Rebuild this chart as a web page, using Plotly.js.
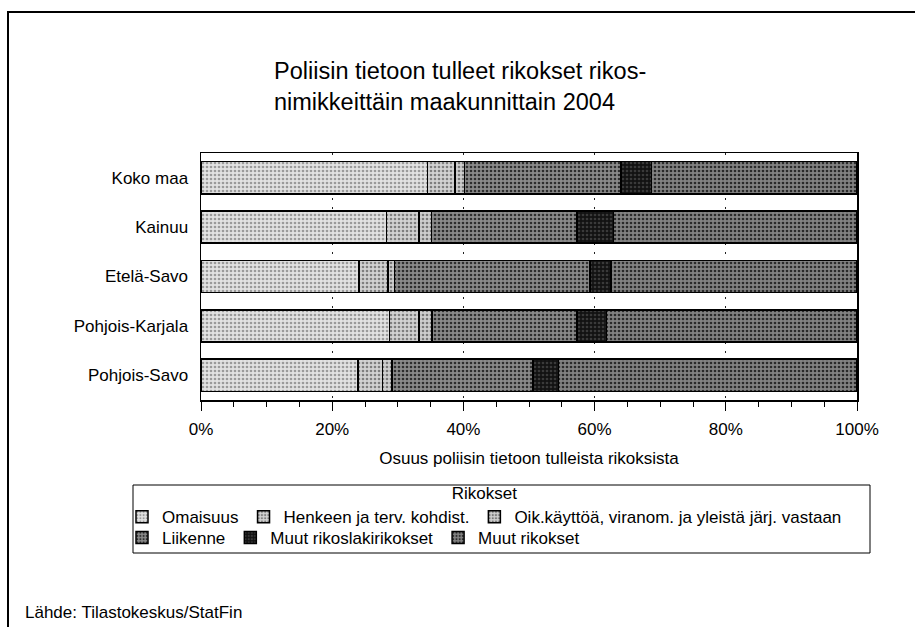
<!DOCTYPE html>
<html><head><meta charset="utf-8">
<script src="https://cdn.plot.ly/plotly-3.0.1.min.js"></script>
<style>html,body{margin:0;padding:0;background:#fff}#chart{width:915px;height:627px}</style>
</head><body><div id="chart"></div>
<script>
// ---- data ----
const regions = ['Koko maa', 'Kainuu', 'Etelä-Savo', 'Pohjois-Karjala', 'Pohjois-Savo'];
const seriesNames = ['Omaisuus', 'Henkeen ja terv. kohdist.', 'Oik.käyttöä, viranom. ja yleistä järj. vastaan',
                     'Liikenne', 'Muut rikoslakirikokset', 'Muut rikokset'];
const omaisuus      = [34.5, 28.3, 24.1, 28.7, 23.9];
const henkeen       = [4.2, 4.9, 4.4, 4.5, 3.8];
const oik           = [1.5, 1.9, 1.0, 2.0, 1.4];
const liikenne      = [23.8, 22.2, 29.8, 22.1, 21.5];
const muutRikoslaki = [4.7, 5.6, 3.2, 4.5, 3.9];
const muutRikokset  = [31.3, 37.1, 37.5, 38.2, 45.5];
const xTickVals = [0, 20, 40, 60, 80, 100];
const xTickText = ['0%', '20%', '40%', '60%', '80%', '100%'];

// ---- styling ----
const FONT = 'Liberation Sans, Arial, sans-serif';
const W = 915, H = 627, ML = 201, MR = 58, MT = 153, MB = 227;
const PW = W - ML - MR, PH = H - MT - MB;
const px = x => (x - ML) / PW;
const py = y => (H - MB - y) / PH;

const styles = [
  {bg: '#e2e2e2', fg: '#9a9a9a', legend: 'legend'},
  {bg: '#d2d2d2', fg: '#7e7e7e', legend: 'legend'},
  {bg: '#cecece', fg: '#777777', legend: 'legend'},
  {bg: '#8a8a8a', fg: '#2e2e2e', legend: 'legend2'},
  {bg: '#121212', fg: '#3a3a3a', legend: 'legend2'},
  {bg: '#828282', fg: '#2a2a2a', legend: 'legend2'}
];
const values = [omaisuus, henkeen, oik, liikenne, muutRikoslaki, muutRikokset];

const traces = values.map((v, i) => ({
  type: 'bar', orientation: 'h', name: seriesNames[i], x: v, y: regions,
  legend: styles[i].legend,
  marker: {
    color: styles[i].bg,
    line: {color: '#000', width: 1.5},
    pattern: {shape: '.', bgcolor: styles[i].bg, fgcolor: styles[i].fg, size: 4, solidity: 0.35, fillmode: 'replace'}
  },
  hoverinfo: 'skip'
}));

const layout = {
  width: W, height: H,
  margin: {l: ML, r: MR, t: MT, b: MB, pad: 0},
  paper_bgcolor: '#fff', plot_bgcolor: '#fff',
  font: {family: FONT, size: 17, color: '#000'},
  barmode: 'stack', bargap: 0.35,
  title: {
    text: 'Poliisin tietoon tulleet rikokset rikos-<br>nimikkeittäin maakunnittain 2004',
    font: {family: FONT, size: 23.5, color: '#000'},
    xref: 'container', x: 274 / W, xanchor: 'left',
    yref: 'container', y: 1 - 79 / H, yanchor: 'top'
  },
  xaxis: {
    range: [0, 100], tickvals: xTickVals, ticktext: xTickText,
    ticks: 'outside', ticklen: 9, tickwidth: 1, tickcolor: '#000',
    ticklabelstandoff: 4,
    minor: {dtick: 5, tick0: 0, ticks: 'outside', ticklen: 5, tickcolor: '#000', showgrid: false},
    showgrid: true, gridcolor: '#222', gridwidth: 1, griddash: '2px,7px',
    showline: true, linecolor: '#000', linewidth: 1.5, mirror: true,
    zeroline: false, fixedrange: true,
    tickfont: {family: FONT, size: 17},
    title: {text: 'Osuus poliisin tietoon tulleista rikoksista', font: {family: FONT, size: 17}, standoff: 14}
  },
  yaxis: {
    type: 'category', autorange: 'reversed',
    showline: true, linecolor: '#000', linewidth: 1.5, mirror: true,
    showgrid: false, ticks: '', ticklabelstandoff: 8, fixedrange: true,
    tickfont: {family: FONT, size: 17}
  },
  legend: {
    orientation: 'h', x: px(122), xanchor: 'left', y: py(477), yanchor: 'top',
    bgcolor: 'rgba(0,0,0,0)', borderwidth: 0,
    font: {family: FONT, size: 17}, traceorder: 'normal',
    title: {text: 'Rikokset', side: 'top center', font: {family: FONT, size: 17}},
    itemclick: false, itemdoubleclick: false
  },
  legend2: {
    orientation: 'h', x: px(122), xanchor: 'left', y: py(520), yanchor: 'top',
    bgcolor: 'rgba(0,0,0,0)', borderwidth: 0,
    font: {family: FONT, size: 17}, traceorder: 'normal',
    itemclick: false, itemdoubleclick: false
  },
  shapes: [
    {type: 'rect', xref: 'paper', yref: 'paper', x0: px(133), x1: px(870), y0: py(553), y1: py(485),
     line: {color: '#000', width: 1}, fillcolor: 'rgba(0,0,0,0)', layer: 'above'},
    {type: 'rect', xref: 'paper', yref: 'paper', x0: px(8), x1: px(930), y0: py(640), y1: py(12),
     line: {color: '#000', width: 2}, fillcolor: 'rgba(0,0,0,0)', layer: 'above'}
  ],
  annotations: [
    {text: 'Lähde: Tilastokeskus/StatFin', xref: 'paper', yref: 'paper', x: px(23), y: py(612),
     xanchor: 'left', yanchor: 'middle', showarrow: false, font: {family: FONT, size: 17, color: '#000'}}
  ]
};

Plotly.newPlot('chart', traces, layout, {displayModeBar: false, staticPlot: true});
</script>
</body></html>
